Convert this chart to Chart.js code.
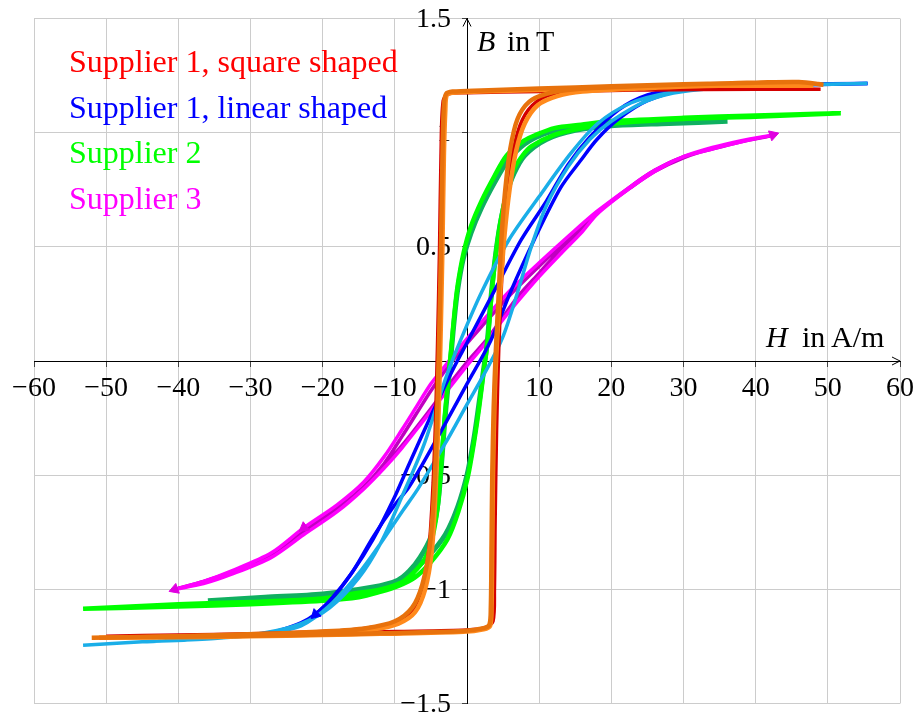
<!DOCTYPE html>
<html>
<head>
<meta charset="utf-8">
<script src="https://cdn.jsdelivr.net/npm/chart.js@4.4.0/dist/chart.umd.min.js"></script>
<style>
  html, body { margin: 0; padding: 0; background: #fff; }
  #wrap { position: relative; width: 916px; height: 715px; }
</style>
</head>
<body>
<div id="wrap"><canvas id="bhChart" width="916" height="715"></canvas></div>
<script>
// axis ticks
var xTicks = [-60, -50, -40, -30, -20, -10, 10, 20, 30, 40, 50, 60];
var yTicks = [-1.5, -1, -0.5, 0.5, 1, 1.5];

var legendLabels = ['Supplier 1, square shaped', 'Supplier 1, linear shaped', 'Supplier 2', 'Supplier 3'];
var legendColors = ['#ff0000', '#0000ff', '#00ff00', '#ff00ff'];

// Supplier 1, square shaped  [H in A/m, B in T]
var sqOrangeDesc = [[49.4,1.21],[46,1.222],[40,1.219],[30,1.212],[20,1.203],[10,1.193],[2,1.185],[-2,1.18],[-2.9,1.17],[-3.2,1.12],[-3.4,0.9],[-3.6,0.5],[-3.9,0.05],[-4.2,-0.3],[-4.6,-0.6],[-5.2,-0.82],[-6.2,-0.98],[-7.6,-1.08],[-10,-1.14],[-14,-1.17],[-20,-1.185],[-28,-1.195],[-40,-1.205],[-52,-1.212]];
var sqOrangeAsc = [[-52,-1.212],[-40,-1.208],[-30,-1.203],[-20,-1.198],[-12,-1.192],[-0.5,-1.182],[2.3,-1.17],[3.1,-1.155],[3.3,-1.08],[3.4,-0.8],[3.5,-0.5],[3.7,-0.2],[4.0,0.05],[4.4,0.3],[4.8,0.55],[5.3,0.75],[6.0,0.93],[7.0,1.06],[8.6,1.135],[11,1.17],[15,1.19],[25,1.205],[35,1.215],[46,1.222],[49.4,1.21]];
var sqLightDesc = [[48,1.205],[40,1.21],[30,1.203],[20,1.195],[10,1.187],[2,1.18],[-2,1.175],[-2.8,1.165],[-3.0,1.1],[-3.2,0.9],[-3.4,0.5],[-3.7,0.05],[-4.0,-0.3],[-4.4,-0.6],[-4.9,-0.84],[-5.8,-1.0],[-7.2,-1.1],[-9.5,-1.15],[-13,-1.175],[-20,-1.19],[-30,-1.2],[-40,-1.207],[-51,-1.212]];
var sqLightAsc = [[-51,-1.212],[-40,-1.21],[-30,-1.206],[-20,-1.2],[-12,-1.195],[-0.5,-1.186],[2.3,-1.175],[3.2,-1.16],[3.4,-1.08],[3.5,-0.8],[3.6,-0.5],[3.8,-0.2],[4.1,0.05],[4.6,0.3],[5.2,0.55],[5.9,0.75],[6.8,0.92],[8.0,1.04],[9.8,1.12],[12.5,1.16],[16,1.18],[25,1.195],[35,1.205],[48,1.205]];
var sqRedDesc = [[49,1.19],[40,1.195],[30,1.19],[20,1.185],[10,1.18],[0,1.175],[-2.5,1.17],[-3.3,1.14],[-3.6,0.9],[-3.8,0.5],[-4.1,0.05],[-4.4,-0.3],[-4.8,-0.6],[-5.3,-0.83],[-6.2,-0.99],[-7.5,-1.09],[-10,-1.145],[-14,-1.17],[-20,-1.185],[-30,-1.195],[-40,-1.2],[-50,-1.205]];
var sqRedAsc = [[-50,-1.205],[-40,-1.2],[-30,-1.197],[-20,-1.192],[-10,-1.185],[0,-1.178],[2.5,-1.168],[3.6,-1.14],[3.8,-1.0],[3.9,-0.7],[4.1,-0.3],[4.4,0.05],[4.8,0.35],[5.3,0.62],[6.0,0.84],[7.0,1.0],[8.5,1.1],[11,1.16],[15,1.18],[25,1.187],[40,1.19],[49,1.19]];

// Supplier 1, linear shaped
var linBlueDesc = [[55.5,1.215],[45,1.212],[35,1.205],[30,1.195],[25,1.165],[21,1.1],[17,0.98],[14,0.86],[11,0.7],[7.5,0.53],[4,0.32],[0,0.08],[-2,-0.04],[-5,-0.24],[-8,-0.45],[-10.1,-0.6],[-13,-0.78],[-16,-0.93],[-19,-1.05],[-21,-1.11]];
var linBlueAsc = [[-45,-1.21],[-35,-1.205],[-30,-1.2],[-26,-1.18],[-22,-1.13],[-19,-1.05],[-16,-0.93],[-13,-0.77],[-10,-0.63],[-8,-0.55],[-4,-0.33],[0,-0.1],[3.3,0.09],[6,0.3],[9.3,0.53],[13,0.76],[15.8,0.88],[18,0.97],[21,1.06],[25,1.14],[30,1.185],[40,1.205],[55.5,1.215]];
var linCyanDesc = [[55.5,1.215],[45,1.21],[35,1.2],[28,1.175],[22.7,1.13],[18.1,1.04],[14.4,0.91],[10,0.72],[5.8,0.53],[2,0.3],[-0.9,0.09],[-3,-0.08],[-6,-0.37],[-9.1,-0.6],[-12,-0.8],[-15,-0.95],[-19,-1.08],[-23,-1.15],[-28,-1.19],[-35,-1.215],[-45,-1.23],[-53.2,-1.245]];
var linCyanAsc = [[-53.2,-1.245],[-45,-1.23],[-35,-1.215],[-28,-1.195],[-23,-1.16],[-19,-1.07],[-15,-0.93],[-12,-0.8],[-9,-0.66],[-6.8,-0.56],[-3,-0.36],[0,-0.19],[2.5,-0.05],[4.9,0.1],[7,0.3],[8.9,0.5],[11,0.68],[14,0.85],[17,0.97],[20,1.05],[25,1.14],[30,1.18],[40,1.205],[55.5,1.215]];

// Supplier 2
var s2GreenDesc = [[51.8,1.085],[45,1.08],[40,1.075],[30,1.065],[20,1.05],[15.8,1.035],[12.1,1.02],[9.5,0.99],[7.9,0.965],[5.5,0.9],[3.8,0.81],[2,0.7],[0.55,0.59],[-0.5,0.47],[-1.3,0.33],[-1.8,0.19],[-2.2,0.05],[-2.6,-0.08],[-3.1,-0.25],[-3.6,-0.47],[-4.1,-0.65],[-5,-0.8],[-5.9,-0.87],[-7.5,-0.93],[-9.1,-0.97],[-12,-1.0],[-16,-1.02],[-20,-1.04],[-30,-1.055],[-40,-1.065],[-53.2,-1.085]];
var s2GreenAsc = [[-53.2,-1.085],[-40,-1.075],[-30,-1.065],[-20,-1.05],[-15,-1.035],[-11.9,-1.01],[-9.5,-0.985],[-7.3,-0.95],[-5,-0.88],[-2.7,-0.78],[-1.2,-0.66],[0.1,-0.51],[1.0,-0.35],[1.7,-0.2],[2.3,-0.05],[2.9,0.1],[3.4,0.29],[4.0,0.47],[4.7,0.62],[5.6,0.75],[6.5,0.84],[7.7,0.9],[8.9,0.94],[12.1,0.99],[16,1.02],[20,1.04],[30,1.06],[40,1.07],[51.8,1.085]];
var s2DarkDesc = [[36.1,1.05],[30,1.045],[20,1.035],[15,1.02],[11.2,1.0],[8,0.95],[5.5,0.87],[3.8,0.78],[2,0.67],[0.55,0.56],[-0.5,0.45],[-1.3,0.31],[-1.8,0.17],[-2.2,0.03],[-2.6,-0.1],[-3.1,-0.27],[-3.6,-0.48],[-4.1,-0.64],[-5,-0.77],[-6.5,-0.86],[-8,-0.92],[-9.6,-0.96],[-13,-0.99],[-20,-1.02],[-28,-1.035],[-35.9,-1.05]];
var s2DarkAsc = [[-35.9,-1.05],[-28,-1.04],[-20,-1.025],[-15,-1.01],[-11,-0.98],[-8,-0.93],[-5.5,-0.86],[-3,-0.76],[-1.3,-0.64],[0,-0.5],[0.9,-0.35],[1.6,-0.2],[2.2,-0.06],[2.8,0.08],[3.3,0.27],[3.9,0.45],[4.6,0.6],[5.5,0.73],[6.5,0.82],[8,0.9],[11,0.97],[15,1.01],[20,1.03],[28,1.04],[36.1,1.05]];

// Supplier 3
var s3MagDesc = [[42.4,0.99],[38,0.965],[34,0.935],[30,0.895],[26,0.835],[22.7,0.765],[18,0.655],[14,0.545],[10,0.43],[6,0.31],[2,0.17],[-1,0.06],[-3,-0.02],[-5,-0.1],[-7,-0.2],[-9,-0.3],[-11.5,-0.42],[-14.3,-0.53],[-18,-0.63],[-22.6,-0.73],[-27.1,-0.84],[-32.7,-0.92],[-36.5,-0.965],[-40.5,-1.0]];
var s3MagAsc = [[-40.5,-1.0],[-36.5,-0.975],[-32.7,-0.935],[-27.1,-0.86],[-22.6,-0.76],[-18,-0.66],[-14.3,-0.56],[-11.5,-0.47],[-9,-0.38],[-6,-0.26],[-3,-0.14],[0,-0.02],[2.9,0.09],[4.7,0.17],[7,0.26],[10,0.37],[13,0.47],[15.8,0.56],[18.1,0.645],[22.7,0.76],[26,0.83],[29.6,0.89],[34.2,0.93],[38,0.96],[42.4,0.99]];
var s3PurpleDesc = [[42,0.985],[38,0.96],[34,0.93],[30,0.89],[26,0.83],[22.7,0.76],[18,0.65],[14,0.535],[10,0.415],[6,0.29],[2,0.15],[-1,0.04],[-3,-0.04],[-5,-0.13],[-7,-0.23],[-9,-0.33],[-11.5,-0.45],[-14.3,-0.55],[-18,-0.645],[-22.6,-0.74],[-27.1,-0.85],[-32.7,-0.925],[-36.5,-0.965],[-40,-0.995]];
var s3PurpleAsc = [[-40,-0.995],[-36.5,-0.97],[-32.7,-0.93],[-27.1,-0.855],[-22.6,-0.755],[-18,-0.65],[-14.3,-0.55],[-11.5,-0.46],[-9,-0.37],[-6,-0.25],[-3,-0.125],[0,-0.005],[2.9,0.1],[4.7,0.18],[7,0.28],[10,0.385],[13,0.49],[15.8,0.575],[18.1,0.65],[22.7,0.765],[26,0.835],[29.6,0.89],[34.2,0.93],[38,0.96],[42,0.985]];

// arrow heads on the curves [H, B, rotation in degrees]
var magArrows = [[-22.6,-0.73,233],[42.4,0.99,72],[-40.5,-1.0,250]];
var blueArrows = [[-21,-1.11,226]];

function toPts(arr) {
	return arr.map(function(p){ return {x: p[0], y: p[1]}; });
}

function loop(label, desc, asc, color, width, order) {
	return {
		label: label,
		data: toPts(desc.concat(asc)),
		showLine: true,
		borderColor: color,
		backgroundColor: color,
		borderWidth: width,
		pointRadius: 0,
		pointHoverRadius: 0,
		tension: 0.3,
		fill: false,
		order: order
	};
}

function arrows(label, arr, color, order) {
	return {
		label: label,
		data: toPts(arr),
		showLine: false,
		pointStyle: 'triangle',
		pointRadius: 6,
		rotation: arr.map(function(p){ return p[2]; }),
		borderColor: color,
		backgroundColor: color,
		borderWidth: 1,
		order: order
	};
}

function minusSign(v) {
	return String(v).replace('-', '\u2212');
}

var tickFont = {family: 'Liberation Serif', size: 28};

// y tick labels sit left of the axis, under the curves
var yLabels = {
	id: 'yLabels',
	beforeDatasetsDraw: function(chart) {
		var ctx = chart.ctx;
		var x0 = chart.scales.x.getPixelForValue(0);
		var ys = chart.scales.y;
		ctx.save();
		ctx.fillStyle = '#000';
		ctx.font = '28px "Liberation Serif"';
		ctx.textAlign = 'right';
		ctx.textBaseline = 'middle';
		yTicks.forEach(function(v) {
			ctx.fillText(minusSign(v), x0 - 16, ys.getPixelForValue(v) + 1);
		});
		ctx.restore();
	}
};

// legend, axis titles and arrows drawn like pgfplots does
var extras = {
	id: 'extras',
	afterDraw: function(chart) {
		var ctx = chart.ctx;
		var xs = chart.scales.x, ys = chart.scales.y;
		var x0 = xs.getPixelForValue(0), y0 = ys.getPixelForValue(0);

		ctx.save();
		ctx.fillStyle = '#000';
		ctx.strokeStyle = '#000';
		ctx.lineWidth = 1;
		// axis arrow heads
		ctx.beginPath();
		ctx.moveTo(xs.right - 8, y0 - 4); ctx.lineTo(xs.right, y0); ctx.lineTo(xs.right - 8, y0 + 4);
		ctx.moveTo(x0 - 4, ys.top + 8); ctx.lineTo(x0, ys.top); ctx.lineTo(x0 + 4, ys.top + 8);
		ctx.stroke();

		// axis titles
		ctx.textBaseline = 'alphabetic';
		ctx.textAlign = 'left';
		ctx.font = 'italic 30px "Liberation Serif"';
		ctx.fillText('H', 766, y0 - 14);
		ctx.font = '30px "Liberation Serif"';
		ctx.fillText('in', 802, y0 - 14);
		ctx.fillText('A/m', 831, y0 - 14);

		ctx.font = 'italic 30px "Liberation Serif"';
		ctx.fillText('B', 477, ys.top + 32);
		ctx.font = '30px "Liberation Serif"';
		ctx.fillText('in', 507, ys.top + 32);
		ctx.fillText('T', 536, ys.top + 32);

		// legend
		ctx.font = '32px "Liberation Serif"';
		legendLabels.forEach(function(t, i) {
			ctx.fillStyle = legendColors[i];
			ctx.fillText(t, 69, 72 + i * 45.5);
		});
		ctx.restore();
	}
};

var chart = new Chart(document.getElementById('bhChart').getContext('2d'), {
	type: 'scatter',
	data: {
		datasets: [
			loop('Supplier 3 b', s3PurpleDesc, s3PurpleAsc, '#c000c0', 3.5, 12),
			loop('Supplier 3', s3MagDesc, s3MagAsc, '#ff00ff', 3.5, 11),
			loop('Supplier 2 b', s2DarkDesc, s2DarkAsc, '#10b060', 5, 10),
			loop('Supplier 2', s2GreenDesc, s2GreenAsc, '#00ff00', 4.5, 9),
			loop('Supplier 1 linear', linBlueDesc, [], '#0000ff', 3.5, 8),
			loop('Supplier 1 linear asc', linBlueAsc, [], '#0000ff', 3.5, 8),
			loop('Supplier 1 linear b', linCyanDesc, linCyanAsc, '#1aaee8', 3.5, 7),
			loop('Supplier 1 square', sqRedDesc, sqRedAsc, '#d40000', 3.5, 6),
			loop('Supplier 1 square b', sqLightDesc, sqLightAsc, '#ff8a1c', 4.5, 5),
			loop('Supplier 1 square c', sqOrangeDesc, sqOrangeAsc, '#e8720c', 4.5, 4),
			arrows('arrows 3', magArrows, '#e000e0', 3),
			arrows('arrows 1', blueArrows, '#0000ff', 3)
		]
	},
	options: {
		responsive: false,
		animation: false,
		devicePixelRatio: 1,
		layout: { padding: {left: 34, right: 16, top: 18.5, bottom: 11.5} },
		plugins: {
			legend: { display: false },
			tooltip: { enabled: false }
		},
		scales: {
			x: {
				type: 'linear',
				min: -60,
				max: 60,
				position: {y: 0},
				afterBuildTicks: function(scale) {
					scale.ticks = [-60,-50,-40,-30,-20,-10,0,10,20,30,40,50,60].map(function(v){ return {value: v}; });
				},
				afterFit: function(scale) {
					scale.paddingLeft = 0; scale.paddingRight = 0; scale.paddingTop = 0; scale.paddingBottom = 0;
				},
				ticks: {
					autoSkip: false,
					maxRotation: 0,
					padding: 6,
					color: '#000',
					font: tickFont,
					callback: function(v) { return xTicks.indexOf(v) >= 0 ? minusSign(v) : ''; }
				},
				grid: { color: '#cccccc', lineWidth: 1, tickLength: 5, tickColor: '#444' },
				border: { color: '#000', width: 1 }
			},
			y: {
				type: 'linear',
				min: -1.5,
				max: 1.5,
				position: {x: 0},
				afterBuildTicks: function(scale) {
					scale.ticks = [-1.5,-1,-0.5,0,0.5,1,1.5].map(function(v){ return {value: v}; });
				},
				afterFit: function(scale) {
					scale.paddingLeft = 0; scale.paddingRight = 0; scale.paddingTop = 0; scale.paddingBottom = 0;
				},
				ticks: { display: false },
				grid: { color: '#cccccc', lineWidth: 1, tickLength: 5, tickColor: '#444' },
				border: { color: '#000', width: 1 }
			}
		}
	},
	plugins: [yLabels, extras]
});
</script>
</body>
</html>
